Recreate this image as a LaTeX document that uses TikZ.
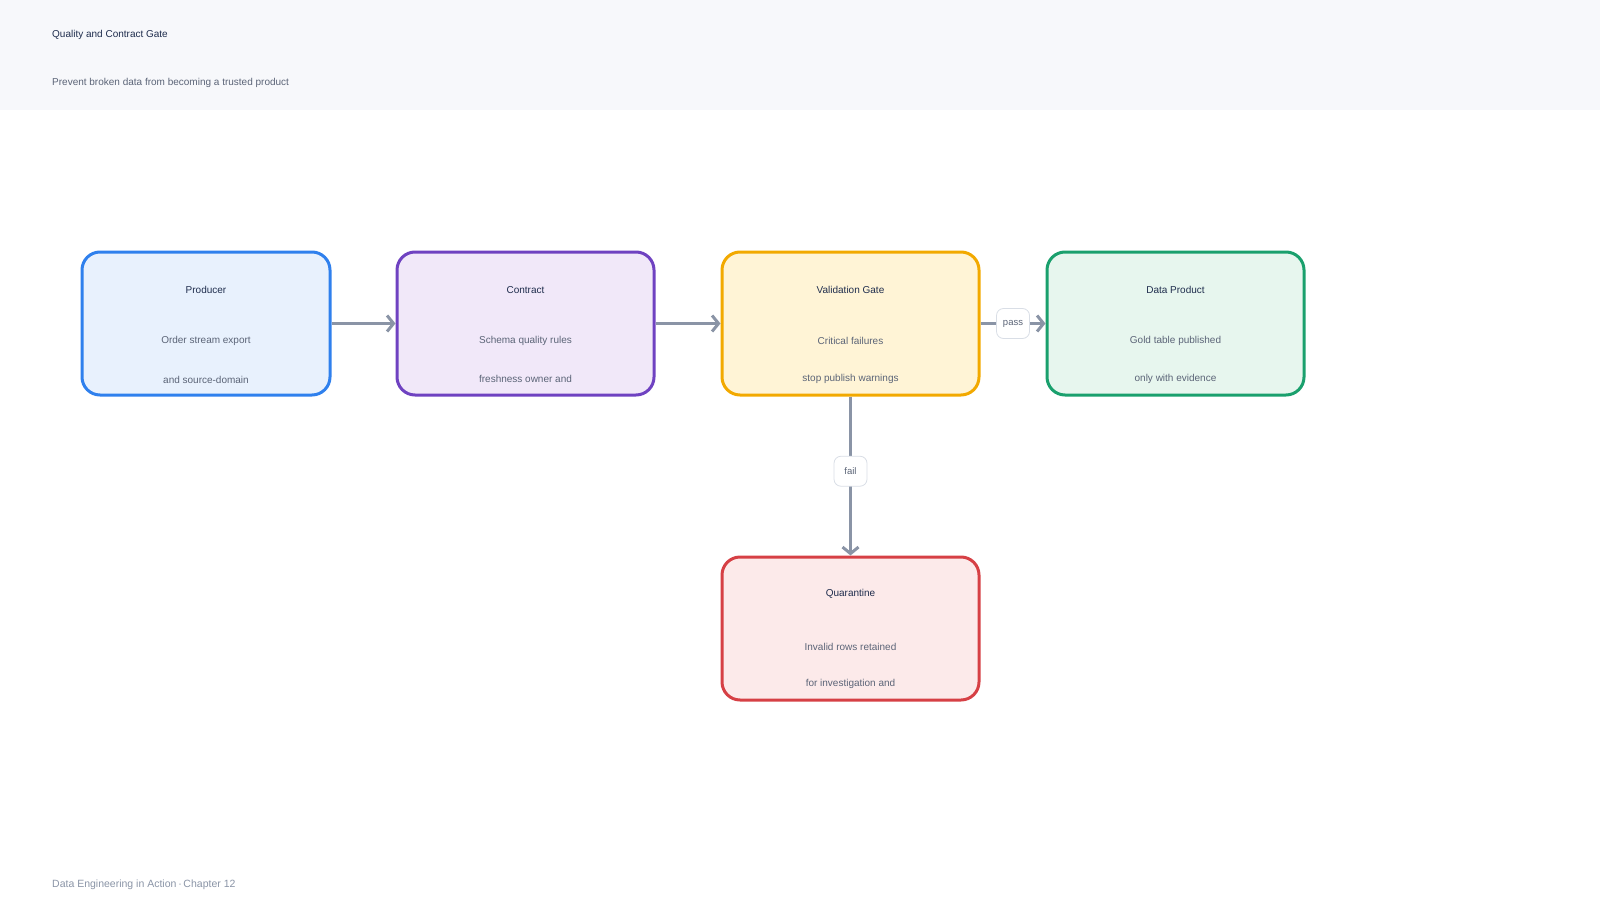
\documentclass[tikz,border=0pt]{standalone}
\usepackage{fontspec}
\setmainfont{Liberation Sans}
\usetikzlibrary{arrows.meta,positioning,calc}
\definecolor{headbg}{RGB}{247,248,251}
\definecolor{inkdark}{RGB}{31,45,77}
\definecolor{inkbody}{RGB}{91,100,119}
\definecolor{inkfoot}{RGB}{138,148,166}
\definecolor{flowgray}{RGB}{138,148,166}
\definecolor{tagline}{RGB}{217,222,230}
\definecolor{blueline}{RGB}{47,128,237}
\definecolor{bluefill}{RGB}{232,241,253}
\definecolor{purpleline}{RGB}{111,66,193}
\definecolor{purplefill}{RGB}{241,232,249}
\definecolor{amberline}{RGB}{242,169,0}
\definecolor{amberfill}{RGB}{255,244,214}
\definecolor{greenline}{RGB}{26,160,109}
\definecolor{greenfill}{RGB}{231,246,238}
\definecolor{redline}{RGB}{214,64,69}
\definecolor{redfill}{RGB}{252,234,234}

\begin{document}
\begin{tikzpicture}[x=1pt,y=-1pt,
    stage/.style={rectangle, rounded corners=18pt, line width=3pt,
      minimum width=257pt, minimum height=143pt},
    stagetitle/.style={text=inkdark, font=\fontsize{10}{12}\selectfont},
    stagetext/.style={text=inkbody, font=\fontsize{10}{12}\selectfont},
    flow/.style={draw=flowgray, line width=3pt,
      -{Straight Barb[length=6.5pt,width=16pt]}},
    tag/.style={fill=white, draw=tagline, line width=0.8pt, rounded corners=7pt,
      minimum width=33pt, minimum height=30pt, inner sep=1pt,
      text=inkbody, font=\fontsize{9.5}{11}\selectfont}]
  \useasboundingbox (0,0) rectangle (1600,920);
  % header band
  \fill[headbg] (0,0) rectangle (1600,110);
  \node[anchor=west, inner sep=0pt, text=inkdark, font=\fontsize{10}{12}\selectfont] (title) at (52,35) {Quality and Contract Gate};
  \node[anchor=west, inner sep=0pt, text=inkbody, font=\fontsize{10}{12}\selectfont] (subtitle) at (52,83) {Prevent broken data from becoming a trusted product};

  % stages
  \node[stage, draw=blueline, fill=bluefill, minimum width=248pt] (producer) at (206,323.5) {};
  \node[stage, draw=purpleline, fill=purplefill] (contract) at (525.5,323.5) {};
  \node[stage, draw=amberline, fill=amberfill] (gate) at (850.5,323.5) {};
  \node[stage, draw=greenline, fill=greenfill] (product) at (1175.5,323.5) {};
  \node[stage, draw=redline, fill=redfill] (quarantine) at (850.5,628.5) {};

  \node[stagetitle] (producerT) at ($(producer)+(0,-33.5)$) {Producer};
  \node[stagetext] (producerA) at ($(producer)+(0,17.5)$) {Order stream export};
  \node[stagetext] (producerB) at ($(producer)+(0,56.5)$) {and source-domain};

  \node[stagetitle] (contractT) at ($(contract)+(0,-33.5)$) {Contract};
  \node[stagetext] (contractA) at ($(contract)+(0,17.5)$) {Schema quality rules};
  \node[stagetext] (contractB) at ($(contract)+(0,55.5)$) {freshness owner and};

  \node[stagetitle] (gateT) at ($(gate)+(0,-33.5)$) {Validation Gate};
  \node[stagetext] (gateA) at ($(gate)+(0,17.5)$) {Critical failures};
  \node[stagetext] (gateB) at ($(gate)+(0,55.5)$) {stop publish warnings};

  \node[stagetitle] (productT) at ($(product)+(0,-33.5)$) {Data Product};
  \node[stagetext] (productA) at ($(product)+(0,17.5)$) {Gold table published};
  \node[stagetext] (productB) at ($(product)+(0,55.5)$) {only with evidence};

  \node[stagetitle] (quarantineT) at ($(quarantine)+(0,-34.5)$) {Quarantine};
  \node[stagetext] (quarantineA) at ($(quarantine)+(0,18.5)$) {Invalid rows retained};
  \node[stagetext] (quarantineB) at ($(quarantine)+(0,55)$) {for investigation and};

  % connectors
  \draw[flow] (producer) -- (contract);
  \draw[flow] (contract) -- (gate);
  \draw[flow] (gate) -- node[tag] (passT) {pass} (product);
  \draw[flow] (gate) -- node[tag, pos=0.47] (failT) {fail} (quarantine);

  % footer
  \node[anchor=west, inner sep=0pt, text=inkfoot, font=\fontsize{10.5}{12}\selectfont] (footer) at (52,885) {Data Engineering in Action\,·\,Chapter 12};
\end{tikzpicture}
\end{document}
